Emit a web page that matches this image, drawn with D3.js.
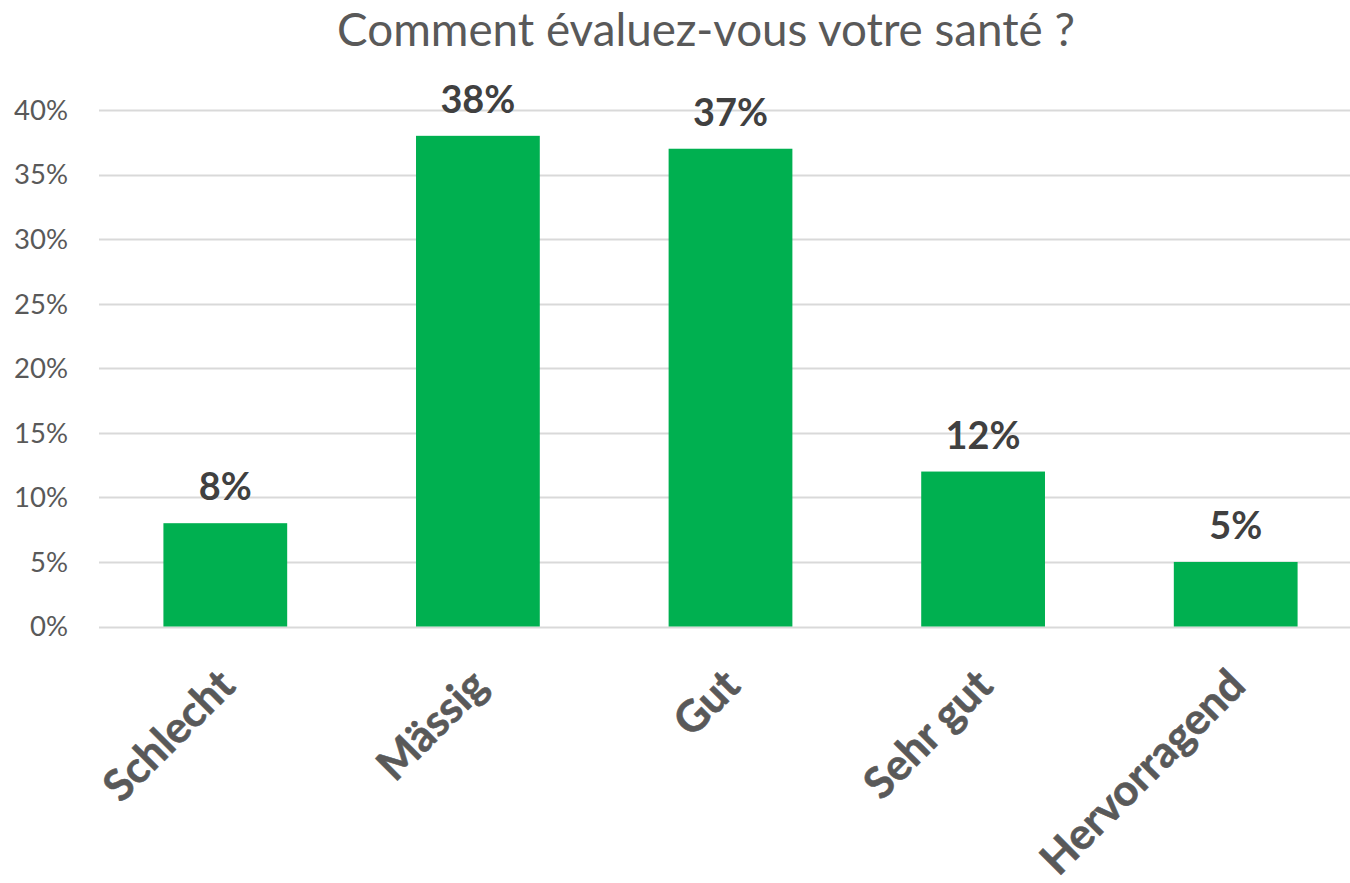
<!DOCTYPE html>
<html><head><meta charset="utf-8">
<script src="https://cdn.jsdelivr.net/npm/d3@7"></script>
<style>body{margin:0;background:#fff}svg{display:block}text{font-family:Lato,"Open Sans",sans-serif}</style>
</head><body>
<svg id="c" width="1350" height="883"></svg>
<script>
const title = "Comment évaluez-vous votre santé ?";
const categories = ["Schlecht","Mässig","Gut","Sehr gut","Hervorragend"];
const values = [0.08,0.38,0.37,0.12,0.05];
const yTicks = [0,0.05,0.10,0.15,0.20,0.25,0.30,0.35,0.40];

const svg = d3.select("#c");
const x = d3.scaleBand().domain(categories).range([99,1362]).paddingInner(0.51).paddingOuter(0.255);
const y = d3.scaleLinear().domain([0,0.40]).range([626.5,110]);
const fmt = d3.format(".0%");

function fit(sel, target){
  sel.each(function(){
    const fs = parseFloat(this.getAttribute("font-size"));
    const w = this.getComputedTextLength();
    this.setAttribute("font-size", (fs*target/w).toFixed(2));
  });
}

// gridlines
svg.append("g").selectAll("line").data(yTicks).join("line")
  .attr("x1",99).attr("x2",1362)
  .attr("y1",d=>Math.round(y(d))+0.5).attr("y2",d=>Math.round(y(d))+0.5)
  .attr("stroke","#d9d9d9").attr("stroke-width",2);

// y axis labels
const yl = svg.append("g").selectAll("text").data(yTicks).join("text")
  .attr("x",68).attr("y",d=>y(d)).attr("dy","0.36em")
  .attr("text-anchor","end").attr("fill","#595959").attr("font-size",30)
  .text(d=>fmt(d));
fit(yl.filter(d=>d===0.40), 54);
const yfs = yl.filter(d=>d===0.40).attr("font-size");
yl.attr("font-size", yfs);

// bars
svg.append("g").selectAll("rect").data(values).join("rect")
  .attr("x",(d,i)=>x(categories[i])).attr("width",x.bandwidth())
  .attr("y",d=>y(d)).attr("height",d=>y(0)-y(d))
  .attr("fill","#00b050");

// data labels
const dl = svg.append("g").selectAll("text").data(values).join("text")
  .attr("x",(d,i)=>x(categories[i])+x.bandwidth()/2).attr("y",d=>y(d)-23)
  .attr("text-anchor","middle").attr("fill","#404040").attr("font-weight","bold")
  .attr("font-size",40).text(d=>fmt(d));
fit(dl.filter((d,i)=>i===1), 75);
dl.attr("font-size", dl.filter((d,i)=>i===1).attr("font-size"));

// x labels
const xl = svg.append("g").selectAll("text").data(categories).join("text")
  .attr("transform",d=>`translate(${x(d)+x.bandwidth()/2+12},688) rotate(-45)`)
  .attr("text-anchor","end").attr("fill","#595959").attr("font-weight","bold")
  .attr("stroke","#595959").attr("stroke-width",0.6)
  .attr("font-size",40).text(d=>d);
fit(xl.filter(d=>d==="Schlecht"), 164);
xl.attr("font-size", xl.filter(d=>d==="Schlecht").attr("font-size"));

// title
const t = svg.append("text").attr("x",706).attr("y",46).attr("text-anchor","middle")
  .attr("fill","#595959").attr("font-size",36).text(title);
fit(t, 738);
</script>
</body></html>
